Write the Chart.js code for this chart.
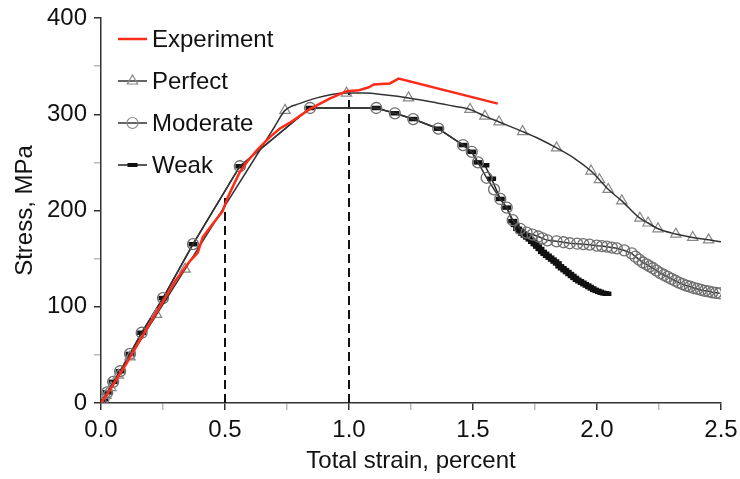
<!DOCTYPE html>
<html>
<head>
<meta charset="utf-8">
<script src="https://cdn.jsdelivr.net/npm/chart.js@4/dist/chart.umd.min.js"></script>
<style>
  html, body { margin: 0; padding: 0; background: #fff; }
  #chart { display: block; }
</style>
</head>
<body>
<canvas id="chart" width="740" height="479"></canvas>
<script>
// Experiment (red line, no markers)
const expStrain = [0, 0.03, 0.1, 0.2, 0.3, 0.36, 0.39, 0.41, 0.45, 0.49, 0.51, 0.53, 0.56, 0.59, 0.63, 0.68, 0.72, 0.76, 0.84, 0.92, 0.99, 1.04, 1.08, 1.10, 1.165, 1.2, 1.6];
const expStress = [0, 11, 40, 84, 127, 148, 156, 172, 186, 199, 213, 224, 240, 251, 263, 276, 285, 291, 305, 316, 324, 325, 328, 331, 332, 337, 311];

// Perfect: smooth curve + triangle markers
const perfectLineStrain = [0, 0.70, 0.742, 0.80, 0.87, 0.93, 0.99, 1.06, 1.15, 1.24, 1.33, 1.42, 1.488, 1.548, 1.605, 1.70, 1.77, 1.837, 1.91, 1.976, 2.01, 2.045, 2.10, 2.173, 2.206, 2.246, 2.318, 2.386, 2.45, 2.5];
const perfectLineStress = [0, 287, 304, 311, 317, 320.5, 322, 322, 320, 317, 313, 308.5, 305, 298, 292, 282, 274, 265, 254, 241, 232, 222, 210, 192, 187, 181, 175.5, 172, 169.5, 167.5];
const perfectMarkStrain = [0, 0.02, 0.04, 0.07, 0.117, 0.224, 0.339, 0.742, 0.99, 1.24, 1.488, 1.548, 1.605, 1.70, 1.837, 1.976, 2.01, 2.045, 2.10, 2.173, 2.206, 2.246, 2.318, 2.386, 2.45];
const perfectMarkStress = [0, 8, 16, 29, 48, 92, 139, 304, 322, 317, 305, 298, 292, 282, 265, 241, 232, 222, 210, 192, 187, 181, 175.5, 172, 169.5];

// Moderate: circles on every point
const moderateStrain = [0, 0.01, 0.025, 0.049, 0.077, 0.117, 0.164, 0.25, 0.371, 0.56, 0.843, 1.11, 1.185, 1.259, 1.36, 1.46, 1.495, 1.52, 1.555, 1.585, 1.61, 1.636, 1.66, 1.69, 1.716, 1.74, 1.763, 1.78, 1.80, 1.837, 1.865, 1.89, 1.92, 1.945, 1.97, 1.999, 2.02, 2.04, 2.06, 2.08, 2.11, 2.14, 2.155, 2.17, 2.185, 2.2, 2.213, 2.226, 2.24, 2.255, 2.27, 2.285, 2.3, 2.315, 2.33, 2.345, 2.36, 2.375, 2.39, 2.405, 2.42, 2.435, 2.45, 2.465, 2.48, 2.495];
const moderateStress = [0, 4, 11, 22, 33, 51, 73, 109, 165, 246, 306.5, 306.5, 301, 295, 285, 268, 261, 250, 234, 222, 212, 203, 190, 181, 177, 175, 173, 171, 169, 168, 167, 166, 165.5, 165, 164.5, 163.5, 163, 162.4, 161.5, 160.7, 158.5, 155.5, 152, 149, 146, 144, 142, 140, 137.5, 135, 133, 131, 129, 127, 125, 123.5, 122, 121, 119.5, 118.5, 117.5, 116.5, 116, 115, 114.5, 114];

// Weak: dash markers, follows Moderate until it splits off near 1.66
const weakStrain = [0, 0.01, 0.025, 0.049, 0.077, 0.117, 0.164, 0.25, 0.371, 0.56, 0.843, 1.11, 1.185, 1.259, 1.36, 1.46, 1.495, 1.52, 1.548, 1.575, 1.61, 1.636, 1.66, 1.67, 1.68, 1.69, 1.70, 1.71, 1.72, 1.73, 1.74, 1.75, 1.76, 1.77, 1.78, 1.79, 1.80, 1.81, 1.82, 1.83, 1.84, 1.85, 1.86, 1.87, 1.88, 1.89, 1.90, 1.91, 1.92, 1.93, 1.94, 1.95, 1.96, 1.97, 1.98, 1.99, 2.0, 2.01, 2.02, 2.03, 2.04];
const weakStress = [0, 4, 11, 22, 33, 51, 73, 109, 165, 246, 306.5, 306.5, 301, 295, 285, 268, 261, 250, 247, 233, 212, 203, 189, 185, 181, 178.5, 176, 174, 172, 170, 167.5, 165, 162.5, 160, 157, 155, 153, 151, 149, 147, 145, 142, 140, 138, 136, 134, 132, 130, 128, 126.5, 125, 123.5, 122, 120.5, 119, 117.5, 116.5, 115.5, 114.5, 114, 113.5];

// vertical dashed guides
const guideStrain = [0.5, 1.0];
const guideTop = [218, 322];

const xTicks = [0, 0.5, 1.0, 1.5, 2.0, 2.5];
const yTicks = [0, 100, 200, 300, 400];

const FONT = "'Liberation Sans', Arial, sans-serif";
const FSIZE = 24;
const pts = (xs, ys) => xs.map((x, i) => ({ x, y: ys[i] }));

// legend drawn inside the plot, line + marker + label
const legendItems = [
  { text: 'Experiment', color: '#ff2a17', width: 2.5, marker: null },
  { text: 'Perfect', color: '#333', width: 1.5, marker: { pointStyle: 'triangle', radius: 6, borderWidth: 1.2, borderColor: '#888' } },
  { text: 'Moderate', color: '#333', width: 1.5, marker: { pointStyle: 'circle', radius: 5.5, borderWidth: 1.2, borderColor: '#888' } },
  { text: 'Weak', color: '#222', width: 1.5, marker: { pointStyle: 'line', radius: 5, borderWidth: 4, borderColor: '#111' } }
];
const insideLegend = {
  id: 'insideLegend',
  afterDraw(chart) {
    const ctx = chart.ctx;
    const rows = [39, 81, 123, 165];
    ctx.save();
    legendItems.forEach((it, i) => {
      const y = rows[i];
      ctx.strokeStyle = it.color;
      ctx.lineWidth = it.width;
      ctx.beginPath();
      ctx.moveTo(118, y);
      ctx.lineTo(147, y);
      ctx.stroke();
      if (it.marker) {
        ctx.strokeStyle = it.marker.borderColor;
        ctx.fillStyle = 'rgba(0,0,0,0)';
        ctx.lineWidth = it.marker.borderWidth;
        Chart.helpers.drawPoint(ctx, { pointStyle: it.marker.pointStyle, radius: it.marker.radius, borderWidth: it.marker.borderWidth, rotation: 0 }, 132.5, y);
      }
      ctx.fillStyle = '#111';
      ctx.font = FSIZE + 'px ' + FONT;
      ctx.textBaseline = 'middle';
      ctx.textAlign = 'left';
      ctx.fillText(it.text, 152, y + 1);
    });
    ctx.restore();
  }
};

new Chart(document.getElementById('chart'), {
  type: 'line',
  data: {
    datasets: [
      {
        label: 'Experiment',
        data: pts(expStrain, expStress),
        borderColor: '#ff2a17',
        borderWidth: 2.5,
        pointRadius: 0,
        tension: 0
      },
      {
        label: 'Perfect',
        data: pts(perfectLineStrain, perfectLineStress),
        borderColor: '#333',
        borderWidth: 1.5,
        pointRadius: 0,
        cubicInterpolationMode: 'monotone'
      },
      {
        label: 'Perfect markers',
        data: pts(perfectMarkStrain, perfectMarkStress),
        showLine: false,
        pointStyle: 'triangle',
        pointRadius: 6,
        pointBorderWidth: 1.2,
        pointBorderColor: '#888',
        pointBackgroundColor: 'rgba(0,0,0,0)'
      },
      {
        label: 'Moderate',
        data: pts(moderateStrain, moderateStress),
        borderColor: '#333',
        borderWidth: 1.5,
        tension: 0,
        pointStyle: 'circle',
        pointRadius: 5.5,
        pointBorderWidth: 1.3,
        pointBorderColor: '#6e6e6e',
        pointBackgroundColor: 'rgba(0,0,0,0)'
      },
      {
        label: 'Weak',
        data: pts(weakStrain, weakStress),
        borderColor: '#222',
        borderWidth: 1.5,
        tension: 0,
        pointStyle: 'line',
        pointRadius: 4.5,
        pointBorderWidth: 4.5,
        pointBorderColor: '#111'
      },
      ...guideStrain.map((x, i) => ({
        label: 'guide ' + x,
        data: [{ x, y: 0 }, { x, y: guideTop[i] }],
        borderColor: '#111',
        borderWidth: 2,
        borderDash: [9, 5],
        pointRadius: 0
      }))
    ]
  },
  options: {
    responsive: false,
    animation: false,
    devicePixelRatio: 1,
    layout: { padding: { left: 0, right: 19, top: 18, bottom: 0 } },
    plugins: { legend: { display: false }, tooltip: { enabled: false } },
    scales: {
      x: {
        type: 'linear',
        min: 0,
        max: 2.5,
        afterFit: (s) => { s.height = 76; s.paddingLeft = 0; s.paddingRight = 0; },
        ticks: {
          stepSize: 0.25,
          autoSkip: false,
          maxRotation: 0,
          padding: 6,
          color: '#111',
          font: { family: FONT, size: FSIZE },
          callback: (v) => xTicks.some(t => Math.abs(t - v) < 1e-6) ? v.toFixed(1) : ''
        },
        grid: {
          drawOnChartArea: false,
          drawTicks: true,
          tickLength: 7,
          lineWidth: 1.5,
          color: (c) => xTicks.some(t => Math.abs(t - c.tick.value) < 1e-6) ? '#333' : '#bbb'
        },
        border: { color: '#333', width: 1.5 },
        title: {
          display: true,
          text: 'Total strain, percent',
          color: '#111',
          font: { family: FONT, size: FSIZE },
          padding: { top: 0, bottom: 3 }
        }
      },
      y: {
        min: 0,
        max: 400,
        afterFit: (s) => { s.width = 101; s.paddingTop = 0; s.paddingBottom = 0; },
        ticks: {
          stepSize: 50,
          autoSkip: false,
          padding: 7,
          color: '#111',
          font: { family: FONT, size: FSIZE },
          callback: (v) => yTicks.includes(v) ? String(v) : ''
        },
        grid: {
          drawOnChartArea: false,
          drawTicks: true,
          tickLength: 7,
          lineWidth: 1.5,
          color: (c) => yTicks.includes(c.tick.value) ? '#333' : '#bbb'
        },
        border: { color: '#333', width: 1.5 },
        title: {
          display: true,
          text: 'Stress, MPa',
          color: '#111',
          font: { family: FONT, size: FSIZE },
          padding: { top: 11, bottom: 0 }
        }
      }
    }
  },
  plugins: [insideLegend]
});
</script>
</body>
</html>
